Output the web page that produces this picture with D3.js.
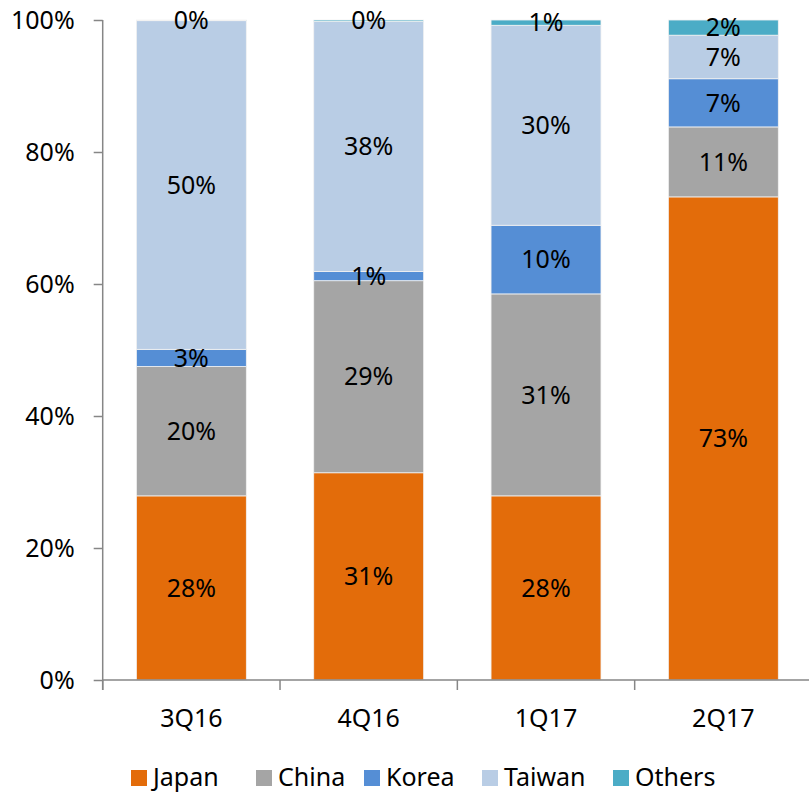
<!DOCTYPE html>
<html>
<head>
<meta charset="utf-8">
<script src="https://cdn.jsdelivr.net/npm/d3@7"></script>
<style>
  body { margin: 0; background: #fff; }
  svg { font-family: "Noto Sans", sans-serif; }
</style>
</head>
<body>
<svg id="chart"></svg>
<script>
var width = 809,
    height = 793;

// Data (share of total, %)
var categories = ['3Q16', '4Q16', '1Q17', '2Q17'];
var seriesNames = ['Japan', 'China', 'Korea', 'Taiwan', 'Others'];
var japan  = [27.9, 31.4, 27.9, 73.2];
var china  = [19.6, 29.1, 30.6, 10.6];
var korea  = [2.6, 1.4, 10.4, 7.3];
var taiwan = [49.8, 37.9, 30.3, 6.6];
var others = [0.1, 0.2, 0.8, 2.3];
var yTicks = [0, 20, 40, 60, 80, 100];

var colors = ['#E36C0A', '#A5A5A5', '#558ED5', '#B9CDE5', '#4BACC6'];

// Build table for the stack
var seriesValues = [japan, china, korea, taiwan, others];
var table = categories.map(function(c, i) {
  var row = { cat: c };
  seriesNames.forEach(function(s, j) { row[s] = seriesValues[j][i]; });
  return row;
});

var margin = { left: 102.7, right: -3, top: 20, bottom: 113 };
var fontSize = 25;

var svg = d3.select('#chart')
  .attr('width', width)
  .attr('height', height);

var x = d3.scaleBand()
  .domain(categories)
  .range([margin.left, width - margin.right])
  .paddingInner(0.38)
  .paddingOuter(0.19);

var y = d3.scaleLinear()
  .domain([0, 100])
  .range([height - margin.bottom, margin.top]);

var stack = d3.stack().keys(seriesNames);
var layers = stack(table);

var color = d3.scaleOrdinal(seriesNames, colors);
var fmt = function(v) { return Math.round(v) + '%'; };

// Bars
var g = svg.append('g');
var layer = g.selectAll('g.layer')
  .data(layers)
  .join('g')
  .attr('class', 'layer')
  .attr('fill', function(d) { return color(d.key); });

layer.selectAll('rect')
  .data(function(d) { return d; })
  .join('rect')
  .attr('x', function(d) { return x(d.data.cat); })
  .attr('width', x.bandwidth())
  .attr('y', function(d) { return y(d[1]); })
  .attr('height', function(d) { return Math.max(0, y(d[0]) - y(d[1])); })
  .attr('stroke', '#f2f2f2')
  .attr('stroke-width', 0.8);

// Segment labels
layers.forEach(function(l) {
  g.selectAll(null)
    .data(l)
    .join('text')
    .attr('x', function(d) { return x(d.data.cat) + x.bandwidth() / 2; })
    .attr('y', function(d) { return (y(d[0]) + y(d[1])) / 2 + 2; })
    .attr('text-anchor', 'middle')
    .attr('dominant-baseline', 'middle')
    .attr('font-size', fontSize)
    .attr('fill', '#000')
    .text(function(d) { return fmt(d[1] - d[0]); });
});

// Y axis
var yAxis = d3.axisLeft(y)
  .tickValues(yTicks)
  .tickSize(9)
  .tickPadding(19)
  .tickFormat(function(d) { return d + '%'; });

var ya = svg.append('g')
  .attr('transform', 'translate(' + margin.left + ',0)')
  .call(yAxis);
ya.select('.domain').remove();
ya.selectAll('.tick line').attr('stroke', '#868686').attr('stroke-width', 1.5);
ya.selectAll('.tick text')
  .attr('font-size', fontSize)
  .attr('fill', '#000')
  .attr('font-family', '"Noto Sans", sans-serif');

// Axis lines
var axisColor = '#868686';
svg.append('line')
  .attr('x1', margin.left).attr('x2', margin.left)
  .attr('y1', y(100)).attr('y2', y(0) + 10)
  .attr('stroke', axisColor).attr('stroke-width', 1.5);
svg.append('line')
  .attr('x1', margin.left).attr('x2', width)
  .attr('y1', y(0)).attr('y2', y(0))
  .attr('stroke', axisColor).attr('stroke-width', 1.5);

// Category boundary ticks
svg.selectAll('line.cat-tick')
  .data(categories)
  .join('line')
  .attr('class', 'cat-tick')
  .attr('x1', function(d) { return x(d) + x.bandwidth() / 2 - x.step() / 2; })
  .attr('x2', function(d) { return x(d) + x.bandwidth() / 2 - x.step() / 2; })
  .attr('y1', y(0))
  .attr('y2', y(0) + 10)
  .attr('stroke', axisColor).attr('stroke-width', 1.5);

// Category labels
svg.selectAll('text.cat')
  .data(categories)
  .join('text')
  .attr('class', 'cat')
  .attr('x', function(d) { return x(d) + x.bandwidth() / 2; })
  .attr('y', y(0) + 40)
  .attr('text-anchor', 'middle')
  .attr('dominant-baseline', 'middle')
  .attr('font-size', fontSize)
  .attr('fill', '#000')
  .text(function(d) { return d; });

// Legend
var legendX = [131, 256, 364, 482, 613];
var legend = svg.append('g').attr('class', 'legend');
seriesNames.forEach(function(s, i) {
  legend.append('rect')
    .attr('x', legendX[i])
    .attr('y', 770)
    .attr('width', 16)
    .attr('height', 16)
    .attr('fill', color(s));
  legend.append('text')
    .attr('x', legendX[i] + 22)
    .attr('y', 779)
    .attr('dominant-baseline', 'middle')
    .attr('font-size', fontSize)
    .attr('fill', '#000')
    .text(s);
});
</script>
</body>
</html>
